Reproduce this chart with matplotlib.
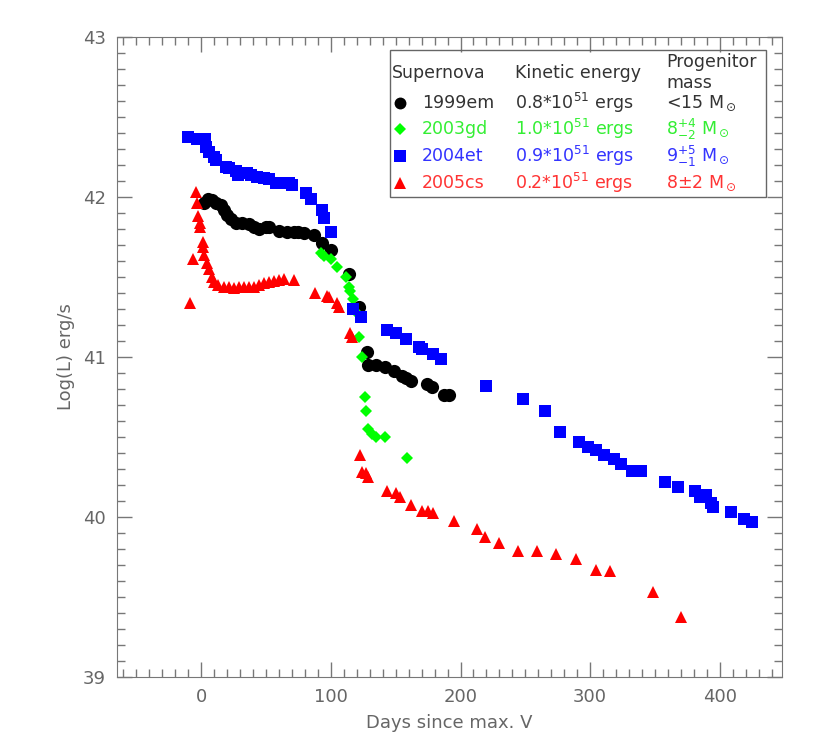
import matplotlib
matplotlib.use("Agg")
import matplotlib.pyplot as plt
from matplotlib.ticker import MultipleLocator
from matplotlib.patches import Rectangle

# SN 1999em
days_99em = [2.3, 5.4, 8.5, 11.5, 15, 17.7, 20, 23, 27, 31.5, 37, 41, 44.6, 50, 52,
             60, 66, 71.5, 75, 79, 87, 93, 100, 114, 121.5, 128, 129, 135, 142, 149,
             155, 158, 162, 174, 178, 187, 191]
logl_99em = [41.96, 41.99, 41.98, 41.96, 41.95, 41.92, 41.89, 41.86, 41.84, 41.84, 41.83,
             41.81, 41.80, 41.81, 41.81, 41.79, 41.78, 41.78, 41.78, 41.775, 41.76, 41.71,
             41.67, 41.52, 41.31, 41.03, 40.95, 40.95, 40.94, 40.91, 40.88, 40.87, 40.85,
             40.83, 40.81, 40.76, 40.76]

# SN 2003gd
days_03gd = [92, 94.6, 100, 105, 111.5, 114, 115, 117, 119, 122, 124, 126, 127, 129,
             131.5, 134.6, 142, 158.5]
logl_03gd = [41.65, 41.63, 41.61, 41.56, 41.50, 41.44, 41.41, 41.36, 41.28, 41.125, 41.0,
             40.75, 40.66, 40.55, 40.52, 40.50, 40.50, 40.37]

# SN 2004et
days_04et = [-10, -3, 3, 4, 6, 10, 11.5, 19, 21.5, 27, 28, 35, 38, 43, 48.5, 52, 58, 62,
             68, 70, 81, 85, 93, 95, 100, 117, 123, 143, 150, 158, 168, 170, 179, 185,
             220, 248, 265, 277, 291.5, 298.5, 304.6, 311, 318.5, 324, 332, 339, 358,
             368, 381, 385, 389, 393, 395, 408.5, 419, 425]
logl_04et = [42.375, 42.36, 42.36, 42.31, 42.28, 42.25, 42.23, 42.19, 42.18, 42.16, 42.14,
             42.15, 42.14, 42.125, 42.12, 42.11, 42.09, 42.09, 42.09, 42.075, 42.025, 41.99,
             41.92, 41.87, 41.78, 41.30, 41.25, 41.17, 41.15, 41.11, 41.06, 41.05, 41.02,
             40.99, 40.82, 40.74, 40.66, 40.53, 40.47, 40.44, 40.42, 40.39, 40.36, 40.33,
             40.29, 40.29, 40.22, 40.19, 40.16, 40.125, 40.14, 40.09, 40.06, 40.03, 39.99,
             39.97]

# SN 2005cs
days_05cs = [-9, -6, -4, -3, -2.3, -1, -0.8, 1, 1.5, 2.3, 4.6, 6, 8, 10, 13, 17.7, 21.5,
             25, 29, 33, 37, 41, 44.6, 48.5, 52, 56, 60, 64, 71.5, 88, 97, 98.5, 104.6,
             106, 115, 116, 122.3, 124, 127, 129, 143, 150, 153, 162, 170, 175, 179,
             194.6, 213, 218.5, 230, 244, 259, 274, 289, 304.6, 315, 348.5, 370]
logl_05cs = [41.34, 41.61, 42.03, 41.96, 41.88, 41.84, 41.81, 41.72, 41.69, 41.64, 41.59,
             41.55, 41.50, 41.47, 41.45, 41.44, 41.44, 41.43, 41.44, 41.44, 41.44, 41.44,
             41.45, 41.46, 41.47, 41.475, 41.48, 41.49, 41.48, 41.40, 41.38, 41.375, 41.34,
             41.31, 41.15, 41.125, 40.39, 40.28, 40.275, 40.25, 40.16, 40.15, 40.125,
             40.075, 40.04, 40.04, 40.025, 39.975, 39.925, 39.875, 39.84, 39.79, 39.79,
             39.77, 39.74, 39.67, 39.66, 39.53, 39.375]

names = ["1999em", "2003gd", "2004et", "2005cs"]
energies = ["0.8*10$^{51}$ ergs", "1.0*10$^{51}$ ergs", "0.9*10$^{51}$ ergs", "0.2*10$^{51}$ ergs"]
masses = ["<15 M$_\\odot$", "8$^{+4}_{-2}$ M$_\\odot$", "9$^{+5}_{-1}$ M$_\\odot$", "8$\\pm$2 M$_\\odot$"]
colors = ["black", "#00ff00", "#0000ff", "#ff0000"]
markers = ["o", "D", "s", "^"]
msizes = [9.5, 6.5, 9.3, 9]

txt = "#666666"
plt.rcParams['font.family'] = ['DejaVu Sans']
plt.rcParams['mathtext.fontset'] = 'dejavusans'

fig = plt.figure(figsize=(8.17, 7.55), dpi=100)
ax = fig.add_axes([117/817, 1-677/755, 665/817, 640/755])

series = [(days_99em, logl_99em), (days_03gd, logl_03gd), (days_04et, logl_04et), (days_05cs, logl_05cs)]
for (d, l), c, m, ms in zip(series, colors, markers, msizes):
    ax.plot(d, l, linestyle='none', marker=m, color=c, markersize=ms, markeredgewidth=0)

ax.set_xlim(-65, 448)
ax.set_ylim(39, 43)
ax.xaxis.set_major_locator(MultipleLocator(100))
ax.xaxis.set_minor_locator(MultipleLocator(10))
ax.yaxis.set_major_locator(MultipleLocator(1))
ax.yaxis.set_minor_locator(MultipleLocator(0.1))
ax.tick_params(which='both', direction='in', top=True, right=True, color='#777777', width=1,
               labelsize=13, labelcolor=txt)
ax.tick_params(which='major', length=11, pad=8)
ax.tick_params(which='minor', length=5.5)
for s in ax.spines.values():
    s.set_color('#777777')
ax.set_xlabel("Days since max. V", fontsize=13, color=txt, labelpad=6)
ax.set_ylabel("Log(L) erg/s", fontsize=13, color=txt, labelpad=6)

# legend box
ax.add_patch(Rectangle((0.41, 0.75), 0.566, 0.23, transform=ax.transAxes, fill=False,
                       edgecolor='#666666', linewidth=1, zorder=5))
hdr = "#333333"
ax.text(0.414, 0.944, "Supernova", transform=ax.transAxes, fontsize=12.5, color=hdr, va='center')
ax.text(0.598, 0.944, "Kinetic energy", transform=ax.transAxes, fontsize=12.5, color=hdr, va='center')
ax.text(0.826, 0.961, "Progenitor", transform=ax.transAxes, fontsize=12.5, color=hdr, va='center')
ax.text(0.826, 0.928, "mass", transform=ax.transAxes, fontsize=12.5, color=hdr, va='center')
rows_y = [0.897, 0.856, 0.814, 0.772]
text_colors = ["#333333", "#33ee33", "#3333ff", "#ff3333"]
for y, n, e, mm, c, tc, m, ms in zip(rows_y, names, energies, masses, colors, text_colors, markers, msizes):
    ax.plot([0.426], [y], transform=ax.transAxes, marker=m, color=c, markersize=ms * 0.9,
            markeredgewidth=0, linestyle='none', clip_on=False)
    ax.text(0.459, y, n, transform=ax.transAxes, fontsize=12.5, color=tc, va='center')
    ax.text(0.598, y, e, transform=ax.transAxes, fontsize=12.5, color=tc, va='center')
    ax.text(0.826, y, mm, transform=ax.transAxes, fontsize=12.5, color=tc, va='center')

fig.savefig("out.png", dpi=100)
